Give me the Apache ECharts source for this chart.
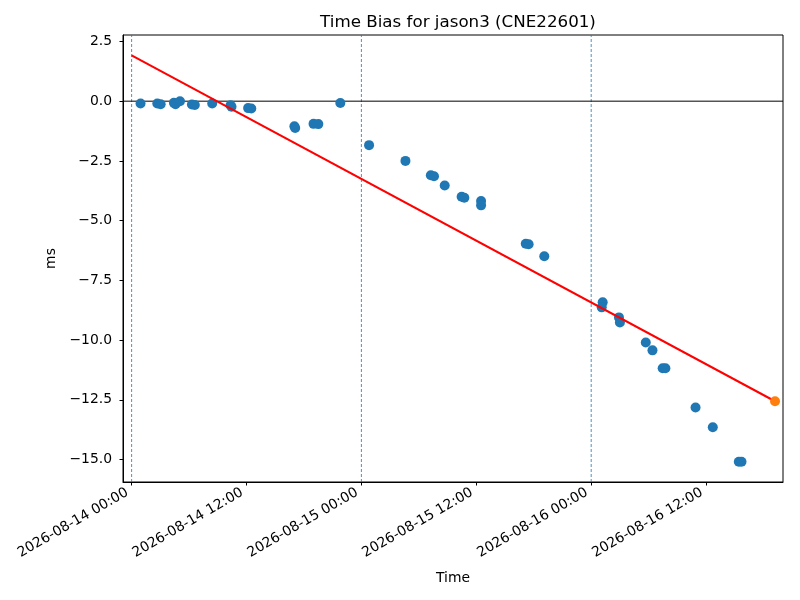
<!DOCTYPE html>
<html>
<head>
<meta charset="utf-8">
<script src="https://cdn.jsdelivr.net/npm/echarts@6/dist/echarts.min.js"></script>
<style>html,body{margin:0;padding:0;background:#fff}#c{width:800px;height:600px}</style>
</head>
<body>
<div id="c"></div>
<script>
// Observed time-bias samples (ms)
const obsTimes = [
  "2026-08-14 00:56","2026-08-14 02:41","2026-08-14 03:02","2026-08-14 04:25","2026-08-14 04:35",
  "2026-08-14 05:03","2026-08-14 06:18","2026-08-14 06:36","2026-08-14 08:25","2026-08-14 10:20",
  "2026-08-14 10:26","2026-08-14 12:10","2026-08-14 12:30","2026-08-14 17:00","2026-08-14 17:05",
  "2026-08-14 19:00","2026-08-14 19:30","2026-08-14 21:48","2026-08-15 00:48","2026-08-15 04:36",
  "2026-08-15 07:15","2026-08-15 07:35","2026-08-15 08:42","2026-08-15 10:28","2026-08-15 10:45",
  "2026-08-15 12:30","2026-08-15 12:30","2026-08-15 17:10","2026-08-15 17:28","2026-08-15 19:06",
  "2026-08-16 01:12","2026-08-16 01:06","2026-08-16 02:54","2026-08-16 03:00","2026-08-16 05:42",
  "2026-08-16 06:24","2026-08-16 07:28","2026-08-16 07:45","2026-08-16 10:54","2026-08-16 12:42",
  "2026-08-16 15:25","2026-08-16 15:42"
];
const obsValues = [
  -0.10,-0.10,-0.13,-0.07,-0.13,
  0.00,-0.14,-0.16,-0.10,-0.17,
  -0.23,-0.29,-0.31,-1.05,-1.12,
  -0.95,-0.96,-0.08,-1.84,-2.50,
  -3.10,-3.14,-3.53,-4.00,-4.04,
  -4.18,-4.36,-5.97,-5.99,-6.49,
  -8.42,-8.63,-9.05,-9.26,-10.10,
  -10.43,-11.18,-11.18,-12.82,-13.65,
  -15.09,-15.09
];
// Fitted trend line endpoints
const fitTimes = ["2026-08-14 00:00","2026-08-16 19:12"];
const fitValues = [1.92,-12.56];
// Predicted point
const predTimes = ["2026-08-16 19:12"];
const predValues = [-12.56];
// Day boundaries
const dayLines = ["2026-08-14 00:00","2026-08-15 00:00","2026-08-16 00:00"];
const zeroLine = [0];
// Tick labels
const xTicks = ["2026-08-14 00:00","2026-08-14 12:00","2026-08-15 00:00","2026-08-15 12:00","2026-08-16 00:00","2026-08-16 12:00"];
const yTicks = [2.5,0,-2.5,-5,-7.5,-10,-12.5,-15];
const xRange = ["2026-08-13 23:06","2026-08-16 20:02"];
const yRange = [-15.94,2.77];

function ts(s){
  const [d,t]=s.split(" ");const [Y,M,D]=d.split("-").map(Number);const [h,m]=t.split(":").map(Number);
  return Date.UTC(Y,M-1,D,h,m);
}
function pad(n){return (n<10?"0":"")+n;}
function fmtT(v){const d=new Date(v);return d.getUTCFullYear()+"-"+pad(d.getUTCMonth()+1)+"-"+pad(d.getUTCDate())+" "+pad(d.getUTCHours())+":"+pad(d.getUTCMinutes());}

const FONT="DejaVu Sans";
const dayLineSeries = dayLines.map(d=>({
  type:'line',data:[[ts(d),yRange[0]],[ts(d),yRange[1]]],symbol:'none',silent:true,z:1,
  lineStyle:{color:'#1f77b4',type:[3,2],width:0.8},itemStyle:{color:'#1f77b4'}
}));
const zeroSeries = zeroLine.map(v=>({
  type:'line',data:[[ts(xRange[0]),v],[ts(xRange[1]),v]],symbol:'none',silent:true,z:1,
  lineStyle:{color:'#000',type:'solid',width:1},itemStyle:{color:'#000'}
}));
const chart=echarts.init(document.getElementById('c'),null,{renderer:'canvas'});
chart.setOption({
  animation:false,
  backgroundColor:'#fff',
  title:{text:'Time Bias for jason3 (CNE22601)',left:453,top:9,textAlign:'center',
    textStyle:{fontFamily:FONT,fontSize:16.7,fontWeight:'normal',color:'#000'}},
  grid:{left:123,right:17,top:35,bottom:118,show:true,borderColor:'#000',borderWidth:1,backgroundColor:'transparent'},
  xAxis:{type:'value',min:ts(xRange[0]),max:ts(xRange[1]),scale:true,
    name:'Time',nameLocation:'middle',nameGap:89,nameTextStyle:{fontFamily:FONT,fontSize:13.9,color:'#000'},
    axisLine:{show:true,onZero:false,lineStyle:{color:'#000',width:1}},
    axisTick:{show:true,length:3.5,lineStyle:{color:'#000',width:1},customValues:xTicks.map(ts)},
    axisLabel:{show:true,rotate:30,margin:7,padding:[0,5,0,0],fontFamily:FONT,fontSize:13.9,color:'#000',
      customValues:xTicks.map(ts),formatter:v=>fmtT(v),hideOverlap:false},
    splitLine:{show:false}},
  yAxis:{type:'value',min:yRange[0],max:yRange[1],
    name:'ms',nameLocation:'middle',nameGap:56,nameRotate:90,nameTextStyle:{fontFamily:FONT,fontSize:13.9,color:'#000'},
    axisLine:{show:true,onZero:false,lineStyle:{color:'#000',width:1}},
    axisTick:{show:true,length:3.5,lineStyle:{color:'#000',width:1},customValues:yTicks},
    axisLabel:{show:true,margin:11,fontFamily:FONT,fontSize:13.9,color:'#000',customValues:yTicks,
      formatter:v=>v.toFixed(1).replace('-','\u2212')},
    splitLine:{show:false}},
  series:dayLineSeries.concat(zeroSeries).concat([
    {type:'scatter',data:obsTimes.map((t,i)=>[ts(t),obsValues[i]]),symbol:'circle',symbolSize:10,
      itemStyle:{color:'#1f77b4',opacity:1},z:3},
    {type:'line',data:fitTimes.map((t,i)=>[ts(t),fitValues[i]]),symbol:'none',
      lineStyle:{color:'#ff0000',width:2},itemStyle:{color:'#ff0000'},z:4},
    {type:'scatter',data:predTimes.map((t,i)=>[ts(t),predValues[i]]),symbol:'circle',symbolSize:10,
      itemStyle:{color:'#ff7f0e',opacity:1},z:5}
  ])
});
</script>
</body>
</html>
